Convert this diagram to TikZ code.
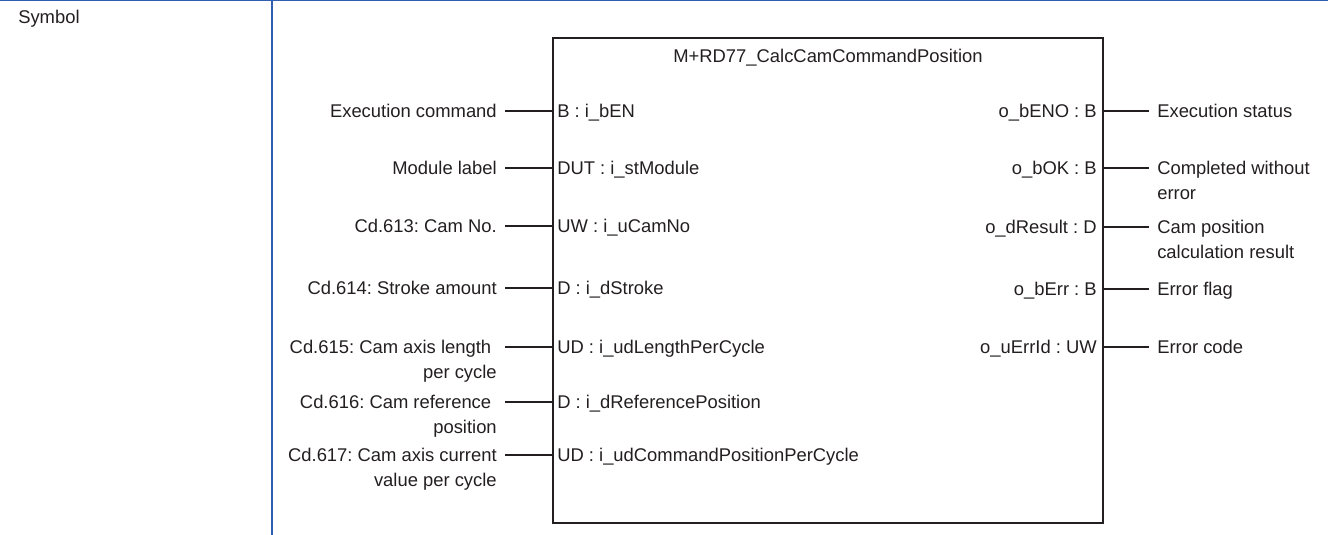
\documentclass[tikz,border=0pt]{standalone}
\usepackage{fontspec}
\setmainfont{Liberation Sans}
\usetikzlibrary{calc}
\definecolor{ink}{HTML}{231F20}
\definecolor{rulecol}{HTML}{2F5FAE}
\begin{document}
\frenchspacing
\begin{tikzpicture}[x=0.75pt,y=-0.75pt,
  txt/.style={inner sep=0pt, text=ink, font=\fontsize{13.8}{18.75}\selectfont\frenchspacing},
  one/.style={txt, text height=9.9pt, text depth=0pt},
  inlab/.style={txt, anchor=east, align=right},
  outlab/.style={txt, anchor=west, align=left},
  pinl/.style={one, anchor=west},
  pinr/.style={one, anchor=east},
  wire/.style={draw=ink, line width=1pt},
  ]
\useasboundingbox (0,0) rectangle (1328,535);
\draw[rulecol, line width=1pt] (0,0.7) -- (1328,0.7);
\draw[rulecol, line width=1.5pt] (272,0) -- (272,535);
\node[one, anchor=west] (sym) at (18,17) {Symbol};

\node[draw=ink, line width=1.8pt, minimum width=412.5pt, minimum height=363.75pt, inner sep=0pt] (box) at (828,280.5) {};
\node[one] (title) at (828,56) {M+RD77\_CalcCamCommandPosition};

% input pins
\node[pinl] (i1) at (557,111) {B : i\_bEN};
\node[pinl] (i2) at (557,168) {DUT : i\_stModule};
\node[pinl] (i3) at (557,226) {UW : i\_uCamNo};
\node[pinl] (i4) at (557,288) {D : i\_dStroke};
\node[pinl] (i5) at (557,347) {UD : i\_udLengthPerCycle};
\node[pinl] (i6) at (557,402) {D : i\_dReferencePosition};
\node[pinl] (i7) at (557,455) {UD : i\_udCommandPositionPerCycle};

% input labels
\node[one, anchor=east] (l1) at (497,111) {Execution command};
\node[one, anchor=east] (l2) at (497,168) {Module label};
\node[one, anchor=east] (l3) at (497,226) {Cd.613: Cam No.};
\node[one, anchor=east] (l4) at (497,288) {Cd.614: Stroke amount};
\node[inlab] (l5) at (497,361.3) {Cd.615: Cam axis length\kern0.3em\\per cycle};
\node[inlab] (l6) at (497,416.3) {Cd.616: Cam reference\kern0.3em\\position};
\node[inlab] (l7) at (497,469.3) {Cd.617: Cam axis current\\value per cycle};

\foreach \k in {1,...,7}{
  \draw[wire] ($(l\k.east |- i\k)+(8,0)$) -- (box.west |- i\k);
}

% output pins
\node[pinr] (o1) at (1097,111) {o\_bENO : B};
\node[pinr] (o2) at (1097,168) {o\_bOK : B};
\node[pinr] (o3) at (1097,227) {o\_dResult : D};
\node[pinr] (o4) at (1097,289) {o\_bErr : B};
\node[pinr] (o5) at (1097,347) {o\_uErrId : UW};

% output labels
\node[one, anchor=west] (r1) at (1157,111) {Execution status};
\node[outlab] (r2) at (1157,180.4) {Completed without\\error};
\node[outlab] (r3) at (1157,239.4) {Cam position\\calculation result};
\node[one, anchor=west] (r4) at (1157,289) {Error flag};
\node[one, anchor=west] (r5) at (1157,347) {Error code};

\foreach \k in {1,...,5}{
  \draw[wire] (box.east |- o\k) -- ($(r\k.west |- o\k)+(-8,0)$);
}
\end{tikzpicture}
\end{document}
